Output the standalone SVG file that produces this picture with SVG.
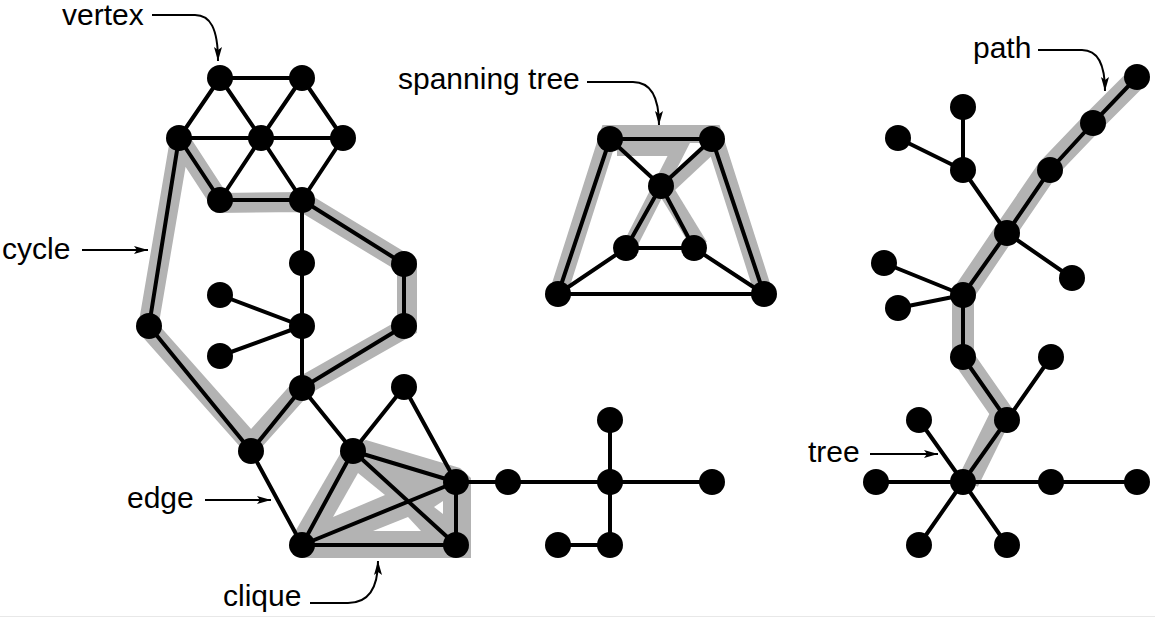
<svg xmlns="http://www.w3.org/2000/svg" width="1155" height="618" viewBox="0 0 1155 618">
<style>
.e{stroke:#000;stroke-width:4;fill:none;stroke-linecap:round}
.g{stroke:#b3b3b3;stroke-width:20;fill:none;stroke-linejoin:miter;stroke-miterlimit:10}
.gf{fill:#b3b3b3;stroke:none}
.h{fill:#fff;stroke:none}
.n circle{fill:#000}
.lbl{font-family:"Liberation Sans",Arial,Helvetica,sans-serif;font-size:30px;fill:#000}
.arr{stroke:#000;stroke-width:2;fill:none;marker-end:url(#ah)}
</style>
<defs>
<marker id="ah" markerUnits="userSpaceOnUse" markerWidth="16" markerHeight="10" viewBox="0 0 16 10" refX="14" refY="5" orient="auto">
<path d="M0,1 L14,5 L0,9 L3,5 Z" fill="#000"/>
</marker>
</defs>
<rect width="1155" height="618" fill="#fff"/>
<line x1="0" y1="616.5" x2="1155" y2="616.5" stroke="#e8e8e8" stroke-width="1"/>

<g id="highlights">
<polygon class="g" style="stroke-miterlimit:1.6" points="180,140 148,328 251,444 303,386 407,327 407,265 303,202 221,203"/>
<polygon class="gf" points="343,449 366,440 460,468 471,478 471,558 300,558 292,537"/>
<polygon class="h" points="358,473 333,517 385,495"/>
<polygon class="h" points="373,531 421,531 408,517"/>
<polygon class="h" points="434,507 443,501 443,514"/>
<polyline class="g" style="stroke-width:18" points="558,294 609,134 713,134 764,294"/>
<polyline class="g" style="stroke-width:14" points="617,149 679,149 628,249"/>
<line class="g" style="stroke-width:14" x1="711" y1="147" x2="665" y2="190"/>
<line class="g" style="stroke-width:16" x1="667" y1="192" x2="700" y2="246"/>
<polyline class="g" style="stroke-width:22" points="1139,76 1093,122 1048,169 1005,232 963,294 963,357 1002,413 968,482"/>
</g>

<g id="connectors">
<path class="e" d="M220,78H302 M220,78L179,138 M220,78L261,138 M302,78L261,138 M302,78L343,138 M179,138H343 M179,138L220,200 M261,138L220,200 M261,138L302,200 M343,138L302,200 M220,200H302"/>
<path class="e" d="M302,200V388 M302,326L220,295 M302,326L220,356 M302,200L404,264 M404,264V326 M404,326L302,388 M302,388L251,451 M251,451L149,326 M149,326L179,138"/>
<path class="e" d="M302,388L353,451 M251,451L302,545 M353,451L404,387 M404,387L456,482 M353,451L456,482 M353,451L302,545 M353,451L456,545 M456,482L302,545 M456,482V545 M302,545H456"/>
<path class="e" d="M456,482H712 M610,420V545 M610,545H558"/>
<path class="e" d="M610,139H712 M610,139L661,186 M712,139L661,186 M661,186L626,248 M661,186L694,248 M626,248H694 M626,248L558,294 M694,248L764,294 M558,294H764 M610,139L558,294 M712,139L764,294"/>
<path class="e" d="M1137,77L1093,123L1050,170L1007,233L963,295V357L1007,420L963,482 M963,107V170 M898,138L963,170 M963,170L1007,233 M1007,233L1072,278 M884,263L963,295 M898,308L963,295 M1007,420L1051,357 M963,482L919,420 M876,482H1137 M963,482L919,545 M963,482L1007,545"/>
</g>

<g id="nodes" class="n">
<g id="v1"><circle cx="220" cy="78" r="13"/></g>
<g id="v2"><circle cx="302" cy="78" r="13"/></g>
<g id="v3"><circle cx="179" cy="138" r="13"/></g>
<g id="v4"><circle cx="261" cy="138" r="13"/></g>
<g id="v5"><circle cx="343" cy="138" r="13"/></g>
<g id="v6"><circle cx="220" cy="200" r="13"/></g>
<g id="v7"><circle cx="302" cy="200" r="13"/></g>
<g id="v8"><circle cx="302" cy="263" r="13"/></g>
<g id="v9"><circle cx="302" cy="326" r="13"/></g>
<g id="v10"><circle cx="220" cy="295" r="13"/></g>
<g id="v11"><circle cx="220" cy="356" r="13"/></g>
<g id="v12"><circle cx="404" cy="264" r="13"/></g>
<g id="v13"><circle cx="404" cy="326" r="13"/></g>
<g id="v14"><circle cx="149" cy="326" r="13"/></g>
<g id="v15"><circle cx="302" cy="388" r="13"/></g>
<g id="v16"><circle cx="251" cy="451" r="13"/></g>
<g id="v17"><circle cx="353" cy="451" r="13"/></g>
<g id="v18"><circle cx="404" cy="387" r="13"/></g>
<g id="v19"><circle cx="456" cy="482" r="13"/></g>
<g id="v20"><circle cx="302" cy="545" r="13"/></g>
<g id="v21"><circle cx="456" cy="545" r="13"/></g>
<g id="v22"><circle cx="508" cy="482" r="13"/></g>
<g id="v23"><circle cx="610" cy="482" r="13"/></g>
<g id="v24"><circle cx="610" cy="420" r="13"/></g>
<g id="v25"><circle cx="712" cy="482" r="13"/></g>
<g id="v26"><circle cx="610" cy="545" r="13"/></g>
<g id="v27"><circle cx="558" cy="545" r="13"/></g>
<g id="s1"><circle cx="610" cy="139" r="13"/></g>
<g id="s2"><circle cx="712" cy="139" r="13"/></g>
<g id="s3"><circle cx="661" cy="186" r="13"/></g>
<g id="s4"><circle cx="626" cy="248" r="13"/></g>
<g id="s5"><circle cx="694" cy="248" r="13"/></g>
<g id="s6"><circle cx="558" cy="294" r="13"/></g>
<g id="s7"><circle cx="764" cy="294" r="13"/></g>
<g id="r1"><circle cx="1137" cy="77" r="13"/></g>
<g id="r2"><circle cx="1093" cy="123" r="13"/></g>
<g id="r3"><circle cx="1050" cy="170" r="13"/></g>
<g id="r4"><circle cx="1007" cy="233" r="13"/></g>
<g id="r5"><circle cx="963" cy="295" r="13"/></g>
<g id="r6"><circle cx="963" cy="357" r="13"/></g>
<g id="r7"><circle cx="1007" cy="420" r="13"/></g>
<g id="r8"><circle cx="963" cy="482" r="13"/></g>
<g id="r9"><circle cx="963" cy="107" r="13"/></g>
<g id="r10"><circle cx="963" cy="170" r="13"/></g>
<g id="r11"><circle cx="898" cy="138" r="13"/></g>
<g id="r12"><circle cx="1072" cy="278" r="13"/></g>
<g id="r13"><circle cx="884" cy="263" r="13"/></g>
<g id="r14"><circle cx="898" cy="308" r="13"/></g>
<g id="r15"><circle cx="1051" cy="357" r="13"/></g>
<g id="r16"><circle cx="919" cy="420" r="13"/></g>
<g id="r17"><circle cx="876" cy="482" r="13"/></g>
<g id="r18"><circle cx="1051" cy="482" r="13"/></g>
<g id="r19"><circle cx="1137" cy="482" r="13"/></g>
<g id="r20"><circle cx="919" cy="545" r="13"/></g>
<g id="r21"><circle cx="1007" cy="545" r="13"/></g>
</g>

<g id="labels">
<text class="lbl" x="62" y="25">vertex</text>
<path class="arr" d="M152,15H195C210,15 218,28 218,61"/>
<text class="lbl" x="2" y="259">cycle</text>
<path class="arr" d="M82,250H148"/>
<text class="lbl" x="127" y="508">edge</text>
<path class="arr" d="M205,500H271"/>
<text class="lbl" x="223" y="606">clique</text>
<path class="arr" d="M310,603H348C366,603 378,592 378,561"/>
<text class="lbl" x="398" y="89">spanning tree</text>
<path class="arr" d="M587,82H633C650,82 659,95 659,125"/>
<text class="lbl" x="973" y="58">path</text>
<path class="arr" d="M1038,50H1082C1097,50 1105,62 1105,91"/>
<text class="lbl" x="808" y="462">tree</text>
<path class="arr" d="M870,454H938"/>
</g>
</svg>
